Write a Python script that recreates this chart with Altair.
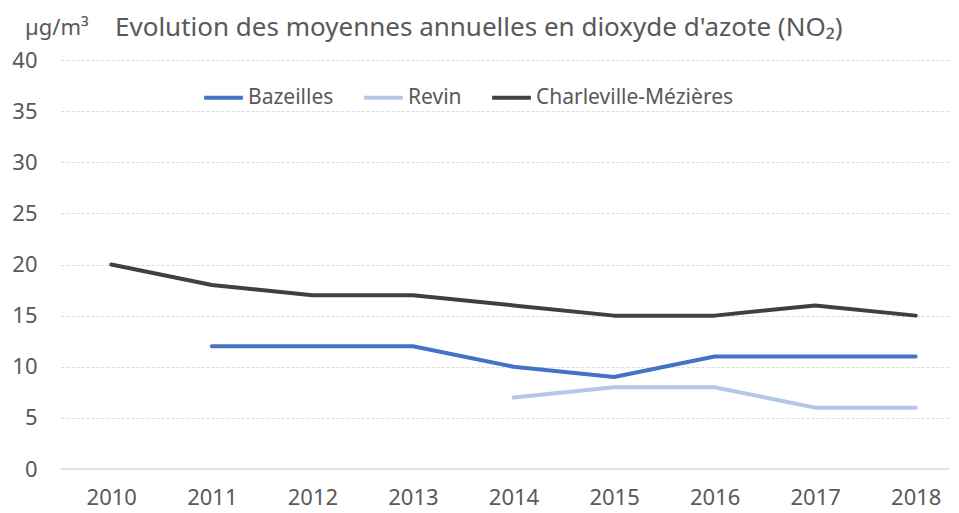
import altair as alt
import pandas as pd

years = ["2010", "2011", "2012", "2013", "2014", "2015", "2016", "2017", "2018"]
bazeilles = [None, 12, 12, 12, 10, 9, 11, 11, 11]
revin = [None, None, None, None, 7, 8, 8, 6, 6]
charleville = [20, 18, 17, 17, 16, 15, 15, 16, 15]
series_names = ["Bazeilles", "Revin", "Charleville-Mézières"]
series_colors = ["#4472C4", "#B4C7E7", "#404040"]
y_ticks = [0, 5, 10, 15, 20, 25, 30, 35, 40]

title_text = "Evolution des moyennes annuelles en dioxyde d'azote (NO₂)"
unit_text = "µg/m³"

rows = []
for name, vals in zip(series_names, [bazeilles, revin, charleville]):
    for yr, v in zip(years, vals):
        if v is not None:
            rows.append({"year": yr, "value": v, "series": name})
df = pd.DataFrame(rows)

FONT = "Noto Sans"
GRAY = "#595959"

lines = alt.Chart(df).mark_line(strokeWidth=4, strokeCap="round", strokeJoin="round").encode(
    x=alt.X("year:O", sort=years,
            scale=alt.Scale(domain=years, range=[0, 905], padding=0.5),
            axis=alt.Axis(title=None, labelAngle=0, labelFontSize=22, labelColor=GRAY,
                          labelFont=FONT, ticks=False, domain=False, grid=False,
                          labelPadding=18)),
    y=alt.Y("value:Q", scale=alt.Scale(domain=[0, 40], nice=False),
            axis=alt.Axis(title=None, values=y_ticks, labelFontSize=22, labelColor=GRAY,
                          labelFont=FONT, ticks=False, domain=False,
                          gridColor="#D9D9D9", gridDash=[3, 2], gridWidth=1,
                          labelPadding=24)),
    color=alt.Color("series:N",
                    scale=alt.Scale(domain=series_names, range=series_colors),
                    legend=alt.Legend(title=None, orient="none", direction="horizontal",
                                      legendX=141, legendY=16, symbolType="stroke",
                                      symbolSize=1500, symbolStrokeWidth=4,
                                      labelFontSize=21, labelColor=GRAY, labelFont=FONT,
                                      labelLimit=0, labelOffset=3, columnPadding=22)),
)

baseline = alt.Chart(pd.DataFrame({"v": [0]})).mark_rule(color="#D9D9D9", strokeWidth=1.5).encode(
    y="v:Q", x=alt.value(0), x2=alt.value(905)
)

title = alt.Chart(pd.DataFrame({"t": [title_text]})).mark_text(
    align="left", baseline="alphabetic", fontSize=26, color=GRAY, font=FONT
).encode(text="t:N", x=alt.value(54), y=alt.value(-24))

unit = alt.Chart(pd.DataFrame({"t": [unit_text]})).mark_text(
    align="left", baseline="alphabetic", fontSize=22, color=GRAY, font=FONT
).encode(text="t:N", x=alt.value(-36), y=alt.value(-25))

chart = alt.layer(baseline, lines, title, unit).properties(
    width=888, height=409,
    autosize=alt.AutoSizeParams(type="none"),
    padding={"left": 53, "top": 52, "right": 0, "bottom": 50},
).configure_view(stroke=None)

chart.save("out.html", embed_options={"renderer": "svg", "actions": False})
